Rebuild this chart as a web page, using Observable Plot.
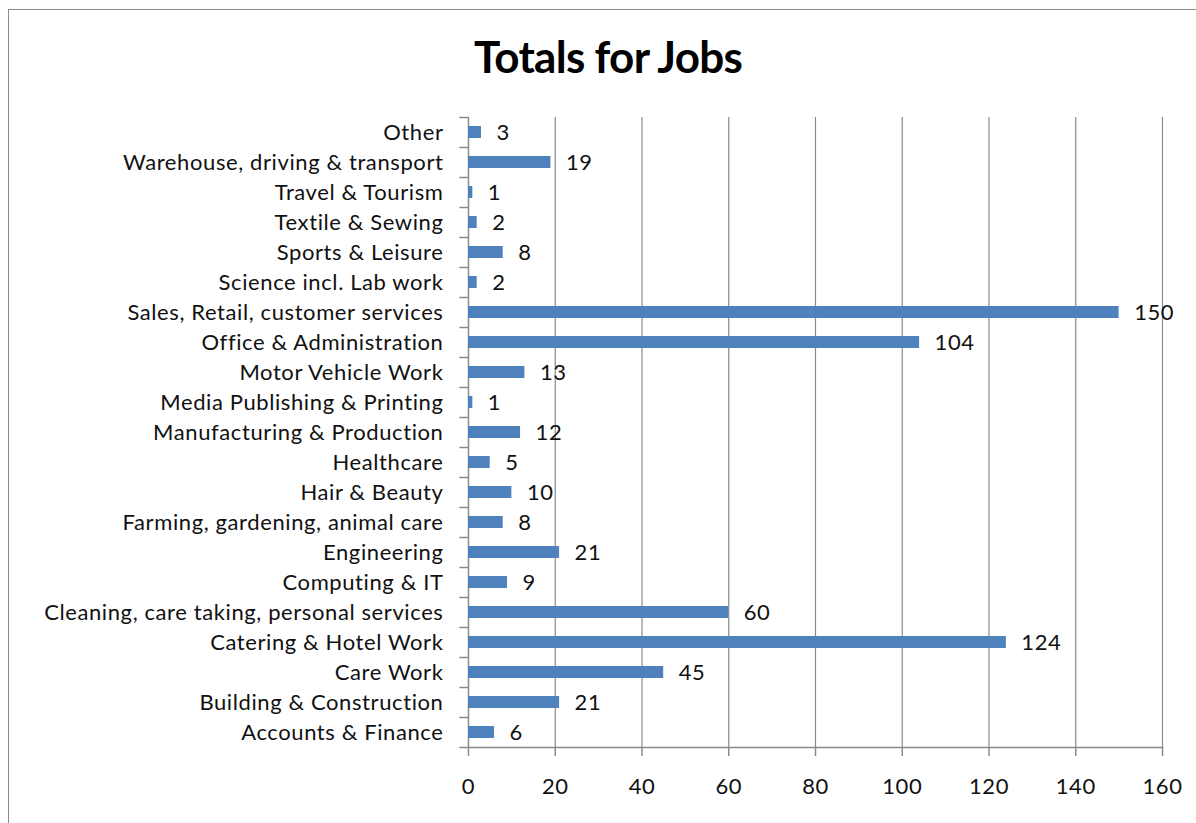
<!DOCTYPE html>
<html>
<head>
<meta charset="utf-8">
<script src="https://cdn.jsdelivr.net/npm/d3@7"></script>
<script src="https://cdn.jsdelivr.net/npm/@observablehq/plot@0.6"></script>
<style>
  html, body { margin: 0; padding: 0; background: #fff; }
  #wrap { position: relative; width: 1196px; height: 823px; overflow: hidden; font-family: Lato, "Open Sans", sans-serif; }
  #border { position: absolute; left: 8px; top: 9px; width: 1300px; height: 900px; border-left: 1.5px solid #8a8a8a; border-top: 1.5px solid #8a8a8a; }
  #title { position: absolute; left: 0; top: 30px; width: 1216px; text-align: center; font-size: 44px; font-weight: bold; color: #000; letter-spacing: -0.7px; }
  #chart { position: absolute; left: 0; top: 100px; }
  #chart svg text { letter-spacing: 0.6px; }
</style>
</head>
<body>
<div id="wrap">
  <div id="border"></div>
  <div id="title">Totals for Jobs</div>
  <div id="chart"></div>
</div>
<script>
const categories = [
  "Other",
  "Warehouse, driving & transport",
  "Travel & Tourism",
  "Textile & Sewing",
  "Sports & Leisure",
  "Science incl. Lab work",
  "Sales, Retail, customer services",
  "Office & Administration",
  "Motor Vehicle Work",
  "Media Publishing & Printing",
  "Manufacturing & Production",
  "Healthcare",
  "Hair & Beauty",
  "Farming, gardening, animal care",
  "Engineering",
  "Computing & IT",
  "Cleaning, care taking, personal services",
  "Catering & Hotel Work",
  "Care Work",
  "Building & Construction",
  "Accounts & Finance"
];
const values = [3, 19, 1, 2, 8, 2, 150, 104, 13, 1, 12, 5, 10, 8, 21, 9, 60, 124, 45, 21, 6];
const xTicks = [0, 20, 40, 60, 80, 100, 120, 140, 160];

const data = categories.map((c, i) => ({category: c, value: values[i]}));
const grid = "#8a8a8a";

const chart = Plot.plot({
  width: 1196,
  height: 723,
  marginTop: 17,
  marginBottom: 76,
  marginLeft: 468,
  marginRight: 34,
  style: {fontFamily: "Lato, 'Open Sans', sans-serif", fontSize: "22px", color: "#111", background: "transparent"},
  x: {domain: [0, 160], ticks: xTicks, label: null},
  y: {domain: categories, paddingInner: 0.6, paddingOuter: 0.3, label: null},
  marks: [
    Plot.gridX(xTicks.filter(d => d > 0), {stroke: grid, strokeOpacity: 1, strokeWidth: 1.2}),
    Plot.frame({anchor: "bottom", stroke: grid, strokeWidth: 1.5}),
    Plot.ruleX([0], {stroke: grid, strokeWidth: 1.5}),
    Plot.ruleY(categories, {y: d => d, x1: -2, x2: 0, dy: 15, stroke: grid, strokeWidth: 1.5}),
    Plot.ruleY([categories[0]], {y: d => d, x1: -2, x2: 0, dy: -15, stroke: grid, strokeWidth: 1.5}),
    Plot.barX(data, {y: "category", x: "value", fill: "#4f81bd"}),
    Plot.text(data, {y: "category", x: "value", text: d => String(d.value), textAnchor: "start", dx: 15, fontSize: 22, fill: "#111"}),
    Plot.axisX({ticks: xTicks, tickSize: 9, tickPadding: 22, fontSize: 22, stroke: grid, strokeWidth: 1.5, strokeOpacity: 1, fill: "#111"}),
    Plot.axisY({tickSize: 0, tickPadding: 25, fontSize: 22, fill: "#111"})
  ]
});
document.getElementById("chart").appendChild(chart);
</script>
</body>
</html>
